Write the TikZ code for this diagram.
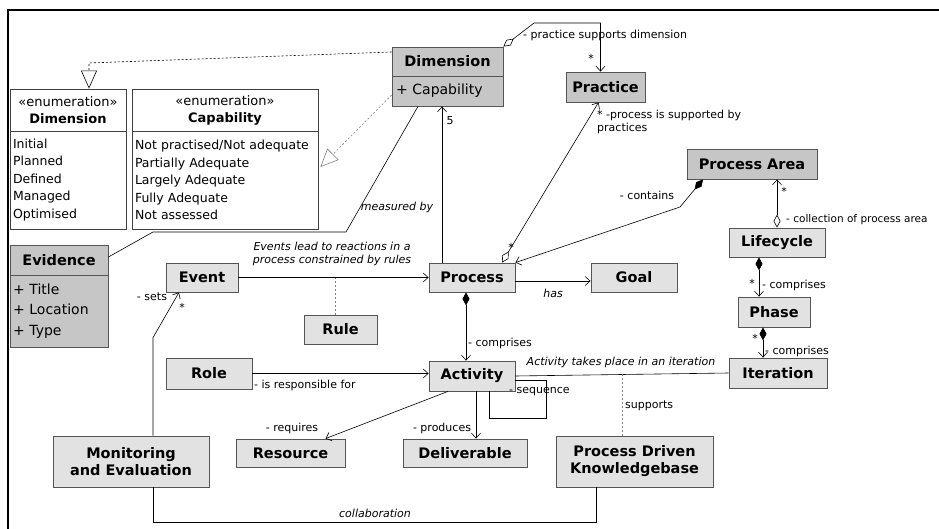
\documentclass[tikz,border=0pt]{standalone}
\usepackage{fontspec}
\setmainfont{DejaVu Sans}
\usepackage{tikz}
\usetikzlibrary{arrows.meta, calc}

\definecolor{boxdark}{RGB}{198,198,198}
\definecolor{boxlight}{RGB}{226,226,226}
\definecolor{boxline}{RGB}{85,85,85}

\begin{document}
\begin{tikzpicture}[x=1pt, y=-1pt,
    cls/.style={draw=boxline, line width=0.8pt, fill=boxlight, inner sep=0pt,
                align=center, font=\fontsize{14.5}{17}\selectfont\bfseries},
    clsd/.style={cls, fill=boxdark},
    attr/.style={draw=boxline, line width=0.8pt, fill=boxdark, inner sep=0pt,
                 align=left, font=\fontsize{14}{20.5}\selectfont},
    enumhd/.style={draw=black!75, line width=0.8pt, fill=white, inner sep=0pt,
                   align=center, font=\fontsize{13}{17}\selectfont},
    enumbd/.style={draw=black!75, line width=0.8pt, fill=white, inner sep=0pt,
                   align=left, font=\fontsize{12.5}{17.5}\selectfont},
    lbl/.style={inner sep=1pt, font=\fontsize{11}{13}\selectfont},
    ilbl/.style={inner sep=1pt, font=\fontsize{11}{13.5}\selectfont\itshape},
    line/.style={line width=0.6pt},
    assoc/.style={line, -{Straight Barb[length=5pt, width=9pt]}},
    agg/.style={line, {Diamond[open, length=13pt, width=7pt]}-{Straight Barb[length=5pt, width=9pt]}},
    comp/.style={line, {Diamond[length=13pt, width=7pt]}-{Straight Barb[length=5pt, width=9pt]}},
    gen/.style={line, dash pattern=on 2pt off 2pt, -{Triangle[open, length=18pt, width=16pt]}},
    dotl/.style={line, gray, dash pattern=on 2pt off 2pt},
  ]
    \useasboundingbox (0,0) rectangle (939,529);
    % frame of the screenshot
    \draw[line width=2pt] (8,529) -- (8,10) -- (939,10);

    % === Dimension class and its enumerations ===
    \node[clsd, minimum width=111pt, minimum height=29pt] (dimhd) at (447.5,61.5)
      {Dimension};
    \node[attr, minimum width=111pt, minimum height=30pt, text width=103pt] (dimat) at (447.5,91)
      {+ Capability};
    \node[enumhd, minimum width=116pt, minimum height=42pt] (enumdh) at (68,110)
      {«enumeration»\\\textbf{Dimension}};
    \node[enumbd, minimum width=116pt, minimum height=98pt, text width=110pt] (enumdb) at (68,180)
      {Initial\\Planned\\Defined\\Managed\\Optimised};
    \node[enumhd, minimum width=186pt, minimum height=42pt] (enumch) at (225,110)
      {«enumeration»\\\textbf{Capability}};
    \node[enumbd, minimum width=186pt, minimum height=98pt, text width=180pt] (enumcb) at (225,180)
      {Not practised/Not adequate\\Partially Adequate\\Largely Adequate\\Fully Adequate\\Not assessed};

    % === Evidence ===
    \node[clsd, minimum width=98pt, minimum height=30pt] (evhd) at (59,260) {Evidence};
    \node[attr, minimum width=98pt, minimum height=72pt, text width=92pt] (evat) at (59,311)
      {+ Title\\+ Location\\+ Type};

    % === Process and neighbours ===
    \node[clsd, minimum width=79pt, minimum height=30pt] (prac) at (605.5,87) {Practice};
    \node[cls, minimum width=72pt, minimum height=29pt] (event) at (202,277.5) {Event};
    \node[cls, minimum width=86pt, minimum height=29pt] (proc) at (472,277.5) {Process};
    \node[cls, minimum width=86pt, minimum height=29pt] (goal) at (634,277.5) {Goal};
    \node[cls, minimum width=73pt, minimum height=29pt] (rule) at (340.5,329.5) {Rule};
    \node[cls, minimum width=86pt, minimum height=31pt] (role) at (209,373.5) {Role};
    \node[cls, minimum width=86pt, minimum height=30pt] (activ) at (472,376) {Activity};
    \node[cls, minimum width=109pt, minimum height=28pt] (res) at (290.5,453) {Resource};
    \node[cls, minimum width=124pt, minimum height=28pt] (deliv) at (465,453) {Deliverable};
    \node[cls, minimum width=156pt, minimum height=51pt] (moni) at (131,461.5)
      {Monitoring\\and Evaluation};
    \node[cls, minimum width=157pt, minimum height=51pt] (pdk) at (634.5,461.5)
      {Process Driven\\Knowledgebase};

    % === Process area hierarchy ===
    \node[clsd, minimum width=130pt, minimum height=30pt] (parea) at (752,164) {Process Area};
    \node[cls, minimum width=96pt, minimum height=29pt] (life) at (777,242.5) {Lifecycle};
    \node[cls, minimum width=72pt, minimum height=30pt] (phase) at (774,312) {Phase};
    \node[cls, minimum width=98pt, minimum height=30pt] (iter) at (778,373) {Iteration};

    % === Generalisations ===
    \draw[gen] ($(dimhd.west)+(0,-9.5)$) -- (89,63) -- ($(enumdh.north)+(21,0)$);
    \draw[gen, gray] ($(dimat.west)+(0,4)$) -- ($(enumcb.east)+(2,-13)$);

    % === Associations at the top ===
    \draw[agg] (dimhd.north east) -- (534,23) -| ([xshift=-5pt]prac.north);
    \node[lbl, anchor=west] (lpsd) at (522,35) {- practice supports dimension};
    \node[lbl] (mpsd) at (591,58) {*};

    \draw[assoc] ([xshift=-30pt]proc.north) -- ([xshift=-30pt]proc.north |- dimat.south);
    \node[lbl] (mfive) at (450,121) {5};

    \draw[agg] ([xshift=30pt]proc.north) -- ([xshift=-7pt]prac.south);
    \node[lbl] (mpp) at (511,247) {*};
    \node[lbl, anchor=north west, align=left] (lpp) at (596,109)
      {* -process is supported by\\practices};

    \draw[comp] ([xshift=-49pt]parea.south) -- (680,207) -- (proc.north east);
    \node[lbl] (lcont) at (647,195) {- contains};

    \draw[line] ($(evhd.east)+(0,-3)$) -- (153,232) -- (346,232) -- ($(dimat.south)+(-29.5,0)$);
    \node[ilbl] (lmeas) at (397,207) {measured by};

    % === Process area, lifecycle, phase, iteration ===
    \draw[agg] (life.north) -- (life.north |- parea.south);
    \node[lbl] (mcoll) at (784,191) {*};
    \node[lbl, anchor=west, font=\fontsize{10.5}{13}\selectfont] (lcoll) at (785,220)
      {- collection of process area};

    \draw[comp] ([xshift=-18pt]life.south) -- ([xshift=-18pt]life.south |- phase.north);
    \node[lbl] (mlp) at (752,283) {*};
    \node[lbl, anchor=west] (llp) at (761,285) {- comprises};

    \draw[comp] ([xshift=-11pt]phase.south) -- ([xshift=-11pt]phase.south |- iter.north);
    \node[lbl] (mpi) at (755,338) {*};
    \node[lbl, anchor=west] (lpi) at (764,351) {- comprises};

    % === Event, process, activity ===
    \draw[assoc] (event.east) -- (proc.west);
    \node[ilbl, align=center] (lev) at (332,254)
      {Events lead to reactions in a\\process constrained by rules};
    \draw[dotl] ([xshift=-5pt]rule.north) -- ([xshift=-5pt]rule.north |- event.east);

    \draw[assoc] ($(proc.east)+(0,3.5)$) -- ($(goal.west)+(0,3.5)$);
    \node[ilbl] (lhas) at (553,293) {has};

    \draw[comp] ([xshift=-6pt]proc.south) -- ([xshift=-6pt]proc.south |- activ.north);
    \node[lbl, anchor=west] (lpa) at (467,343) {- comprises};

    \draw[assoc] (role.east) -- (role.east -| activ.west);
    \node[lbl, anchor=west] (lrole) at (253,385) {- is responsible for};

    \draw[line] ($(activ.south)+(17,0)$) -- ++(0,27) -| ($(activ.east)+(31,4)$) -- ($(activ.east)+(0,4)$);
    \node[lbl, anchor=west] (lseq) at (508,392) {- sequence};

    \draw[assoc] ($(activ.south)+(-24,0)$) -- ($(res.north)+(35,0)$);
    \node[lbl] (lreq) at (292,428) {- requires};
    \draw[assoc] ([xshift=4pt]activ.south) -- ([xshift=4pt]activ.south |- deliv.north);
    \node[lbl] (lprod) at (442,428) {- produces};

    \draw[line] (activ.east) -- (iter.west);
    \node[ilbl] (lit) at (621,362) {Activity takes place in an iteration};
    \draw[dotl] ([xshift=-12pt]pdk.north) -- ([xshift=-12pt]pdk.north |- iter.west);
    \node[lbl, anchor=west] (lsup) at (624,406) {supports};

    % === Monitoring ===
    \draw[assoc] ($(moni.north)+(22,0)$) -- ++(0,-98) -- ($(event.south)+(-23,0)$);
    \node[lbl] (lsets) at (152,297) {- sets};
    \node[lbl] (msets) at (182,307) {*};
    \draw[line] ($(moni.south)+(22,0)$) -- ++(0,35) -| ($(pdk.south)+(-38.5,0)$);
    \node[ilbl] (lcol) at (375,513) {collaboration};
  \end{tikzpicture}
\end{document}
